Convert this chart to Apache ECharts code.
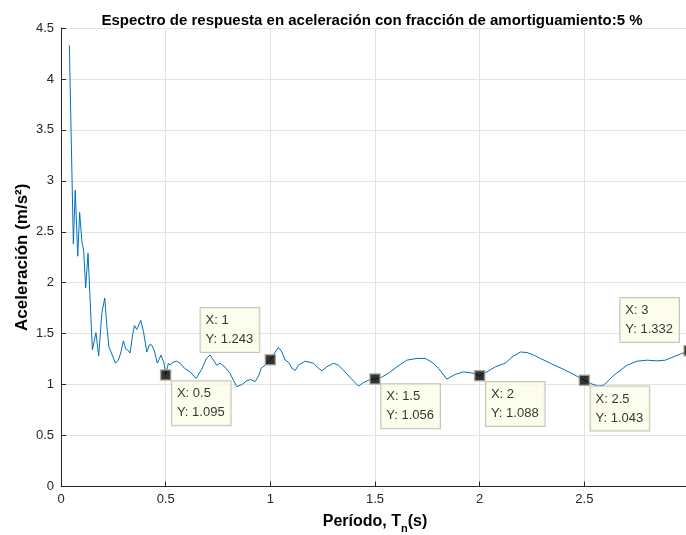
<!DOCTYPE html>
<html>
<head>
<meta charset="utf-8">
<script src="https://cdn.jsdelivr.net/npm/echarts@6/dist/echarts.min.js"></script>
<style>
html,body{margin:0;padding:0;background:#fff;}
#chart{width:686px;height:535px;}
</style>
</head>
<body>
<div id="chart"></div>
<script>
// Spectral acceleration (m/s²) versus natural period Tn (s), 5 % damping
const periods = [
  0.04, 0.059, 0.068, 0.080, 0.089, 0.094, 0.100, 0.108, 0.118, 0.129,
  0.150, 0.167, 0.180, 0.195, 0.209, 0.218, 0.229, 0.239, 0.247, 0.260,
  0.274, 0.285, 0.298, 0.309, 0.319, 0.330, 0.343, 0.351, 0.362, 0.381,
  0.394, 0.410, 0.422, 0.433, 0.445, 0.460, 0.478, 0.492, 0.500, 0.513,
  0.521, 0.534, 0.553, 0.569, 0.590, 0.617, 0.645, 0.672, 0.696, 0.712,
  0.728, 0.744, 0.760, 0.784, 0.808, 0.824, 0.840, 0.864, 0.888, 0.907,
  0.927, 0.943, 0.956, 0.975, 1.000, 1.023, 1.039, 1.055, 1.071, 1.087,
  1.103, 1.119, 1.134, 1.166, 1.206, 1.230, 1.246, 1.270, 1.302, 1.326,
  1.350, 1.381, 1.421, 1.445, 1.477, 1.500, 1.530, 1.570, 1.605, 1.652,
  1.700, 1.740, 1.772, 1.803, 1.843, 1.883, 1.923, 1.963, 2.000, 2.035,
  2.075, 2.122, 2.154, 2.194, 2.226, 2.258, 2.290, 2.337, 2.401, 2.449,
  2.500, 2.537, 2.569, 2.592, 2.640, 2.704, 2.752, 2.800, 2.847, 2.887,
  2.919, 2.959, 3.000
];
const accel = [
  4.33, 2.38, 2.91, 2.26, 2.69, 2.68, 2.40, 2.32, 1.95, 2.29,
  1.34, 1.51, 1.28, 1.70, 1.85, 1.60, 1.37, 1.32, 1.32, 1.21,
  1.24, 1.31, 1.43, 1.35, 1.34, 1.31, 1.50, 1.58, 1.54, 1.63,
  1.52, 1.32, 1.39, 1.39, 1.34, 1.21, 1.29, 1.21, 1.095, 1.21,
  1.19, 1.22, 1.23, 1.21, 1.16, 1.125, 1.06, 1.15, 1.26, 1.29,
  1.24, 1.19, 1.21, 1.17, 1.11, 1.04, 0.98, 1.00, 1.04, 1.05,
  1.03, 1.08, 1.16, 1.19, 1.243, 1.32, 1.365, 1.32, 1.24, 1.22,
  1.16, 1.14, 1.19, 1.23, 1.21, 1.16, 1.135, 1.175, 1.21, 1.19,
  1.14, 1.07, 0.985, 1.02, 1.05, 1.056, 1.07, 1.12, 1.175, 1.24,
  1.257, 1.257, 1.22, 1.16, 1.054, 1.10, 1.125, 1.115, 1.088, 1.125,
  1.175, 1.21, 1.27, 1.32, 1.315, 1.29, 1.257, 1.21, 1.15, 1.10,
  1.043, 1.005, 0.985, 0.995, 1.09, 1.19, 1.23, 1.24, 1.233, 1.24,
  1.267, 1.30, 1.332
];

// Data tips
const tipX = [0.5, 1, 1.5, 2, 2.5, 3];
const tipY = [1.095, 1.243, 1.056, 1.088, 1.043, 1.332];

// Axis ticks
const xTicks = [0, 0.5, 1, 1.5, 2, 2.5, 3];
const yTicks = [0, 0.5, 1, 1.5, 2, 2.5, 3, 3.5, 4, 4.5];

// Label offsets (px) of each data tip box relative to its marker box
const tipOffsets = [[12, 12], [-64, -46], [12, 11], [12, 12], [12, 12], [-63, -47]];

const FONT = '"Liberation Sans", Arial, Helvetica, sans-serif';
const chart = echarts.init(document.getElementById('chart'), null, {renderer: 'canvas'});

const linePts = periods.map((p, i) => [p, accel[i]]);
const tipPts = tipX.map((x, i) => ({
  value: [x, tipY[i]],
  label: {
    show: true,
    position: tipOffsets[i],
    formatter: 'X: ' + x + '\nY: ' + tipY[i].toFixed(3)
  }
}));

chart.setOption({
  animation: false,
  backgroundColor: '#ffffff',
  title: {
    text: 'Espectro de respuesta en aceleración con fracción de amortiguamiento:5 %',
    left: 367, top: 8, textAlign: 'center',
    textStyle: {fontFamily: FONT, fontSize: 15, fontWeight: 'bold', color: '#000'}
  },
  grid: {left: 61, right: -3, top: 28, bottom: 48.5, outerBoundsMode: 'none', containLabel: false},
  xAxis: {
    type: 'value', min: 0, max: 3, interval: 0.5,
    name: '{a|Período, T}{s|n}{a|(s)}',
    nameLocation: 'middle', nameGap: 22, nameMoveOverlap: false,
    nameTextStyle: {
      rich: {
        a: {fontFamily: FONT, fontSize: 16, fontWeight: 'bold', color: '#000', lineHeight: 18, verticalAlign: 'middle'},
        s: {fontFamily: FONT, fontSize: 11, fontWeight: 'bold', color: '#000', lineHeight: 26, verticalAlign: 'bottom'}
      }
    },
    axisLine: {show: true, onZero: false, lineStyle: {color: '#262626', width: 1}},
    axisTick: {show: true, inside: true, length: 5, lineStyle: {color: '#262626'}},
    axisLabel: {
      margin: 6, color: '#262626', fontFamily: FONT, fontSize: 13,
      formatter: v => xTicks.includes(v) ? String(v) : ''
    },
    splitLine: {show: true, lineStyle: {color: '#e3e3e3', width: 1}}
  },
  yAxis: {
    type: 'value', min: 0, max: 4.5, interval: 0.5,
    name: 'Aceleración (m/s²)',
    nameLocation: 'middle', nameGap: 30, nameRotate: 90, nameMoveOverlap: false,
    nameTextStyle: {fontFamily: FONT, fontSize: 17, fontWeight: 'bold', color: '#000'},
    axisLine: {show: true, onZero: false, lineStyle: {color: '#262626', width: 1}},
    axisTick: {show: true, inside: true, length: 5, lineStyle: {color: '#262626'}},
    axisLabel: {
      margin: 7, color: '#262626', fontFamily: FONT, fontSize: 13,
      formatter: v => yTicks.includes(v) ? String(v) : ''
    },
    splitLine: {show: true, lineStyle: {color: '#e3e3e3', width: 1}}
  },
  series: [
    {
      type: 'line', data: linePts, showSymbol: false, symbol: 'none',
      lineStyle: {color: '#0072BD', width: 1}, smooth: false, z: 2
    },
    {
      type: 'scatter', data: tipPts, symbol: 'rect', symbolSize: 10,
      itemStyle: {color: '#000', borderColor: '#a3a38a', borderWidth: 1.5},
      label: {
        show: true, align: 'left', verticalAlign: 'top',
        fontFamily: FONT, fontSize: 13, color: '#000', lineHeight: 19,
        backgroundColor: '#fdfde9', borderColor: '#b5b5aa', borderWidth: 1,
        padding: [3, 6, 3, 5]
      },
      z: 5
    }
  ]
});
</script>
</body>
</html>
